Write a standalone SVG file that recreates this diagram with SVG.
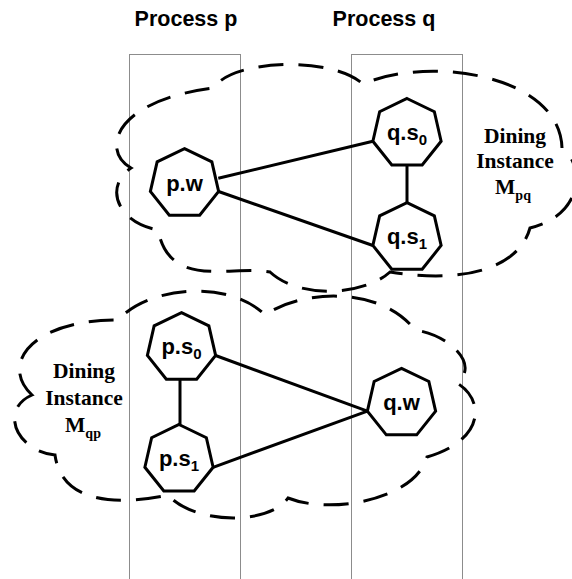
<svg xmlns="http://www.w3.org/2000/svg" xmlns:xlink="http://www.w3.org/1999/xlink" width="572" height="579" viewBox="0 0 572 579">
  <style>
    .col { fill: none; stroke: #8c8c8c; stroke-width: 1; }
    .title { font-family: "Liberation Sans", Arial, sans-serif; font-weight: bold; font-size: 21.5px; fill: #000; text-anchor: middle; }
    .cloud { fill: none; stroke: #000; stroke-width: 3; stroke-dasharray: 25 15; stroke-linejoin: miter; }
    .edge { stroke: #000; stroke-width: 3; fill: none; }
    .node { fill: #fff; stroke: #000; stroke-width: 3; stroke-linejoin: miter; }
    .nlabel { font-family: "Liberation Sans", Arial, sans-serif; font-weight: bold; font-size: 22px; fill: #000; text-anchor: middle; }
    .sub { font-size: 15px; }
    .inst { font-family: "Liberation Serif", "Times New Roman", serif; font-weight: bold; font-size: 21.5px; fill: #000; text-anchor: middle; }
    .isub { font-size: 14px; }
  </style>
  <defs>
    <!-- regular heptagon, radius 35, one vertex up -->
    <polygon id="hept" points="0,-35 27.36,-21.82 34.12,7.79 15.19,31.53 -15.19,31.53 -34.12,7.79 -27.36,-21.82"/>
  </defs>

  <!-- process columns -->
  <g id="columns">
    <rect class="col" x="129.5" y="54.5" width="111" height="560"/>
    <rect class="col" x="351.5" y="54.5" width="111" height="560"/>
    <text class="title" x="186" y="26">Process p</text>
    <text class="title" x="384" y="26">Process q</text>
  </g>

  <!-- dining instance boundaries -->
  <g id="instance-pq">
    <path class="cloud" d="M131,168 C100,150 115,100 214,88 C230,60 330,55 363,84 C430,55 560,75 562,148 C585,165 584,215 530,228 C520,265 470,285 390,272 C365,295 300,300 270,272 C230,265 170,290 158,230 C115,222 105,185 131,168 Z"/>
    <text class="inst" x="515" y="143">Dining</text>
    <text class="inst" x="515" y="168">Instance</text>
    <text class="inst" x="513" y="194">M<tspan class="isub" dy="6">pq</tspan></text>
  </g>
  <g id="instance-qp">
    <path class="cloud" d="M32,395 C0,365 30,320 118,320 C150,285 230,280 265,315 C300,290 380,285 415,330 C450,335 480,365 457,383 C485,400 485,440 427,457 C415,500 330,515 288,498 C270,525 195,525 168,495 C120,505 62,505 55,455 C18,452 -2,410 32,395 Z"/>
    <text class="inst" x="84" y="378">Dining</text>
    <text class="inst" x="84" y="405">Instance</text>
    <text class="inst" x="83" y="432">M<tspan class="isub" dy="6">qp</tspan></text>
  </g>

  <!-- connectors -->
  <g id="edges">
    <line class="edge" x1="218.3" y1="178.3" x2="372.9" y2="141.3"/>
    <line class="edge" x1="218.6" y1="191.5" x2="372.9" y2="245.5"/>
    <line class="edge" x1="407" y1="165" x2="407" y2="202.7"/>
    <line class="edge" x1="215.6" y1="355.5" x2="367.4" y2="411.1"/>
    <line class="edge" x1="213.1" y1="467.3" x2="367.4" y2="411.1"/>
    <line class="edge" x1="180" y1="379.2" x2="180" y2="424.5"/>
  </g>

  <!-- nodes -->
  <g id="p-w">
    <use xlink:href="#hept" class="node" transform="translate(184.5,183.7)"/>
    <text class="nlabel" x="184.5" y="190.5">p.w</text>
  </g>
  <g id="q-s0">
    <use xlink:href="#hept" class="node" transform="translate(407,133.5)"/>
    <text class="nlabel" x="407" y="140">q.s<tspan class="sub" dy="5">0</tspan></text>
  </g>
  <g id="q-s1">
    <use xlink:href="#hept" class="node" transform="translate(407,237.7)"/>
    <text class="nlabel" x="407" y="244">q.s<tspan class="sub" dy="5">1</tspan></text>
  </g>
  <g id="p-s0">
    <use xlink:href="#hept" class="node" transform="translate(181.5,347.7)"/>
    <text class="nlabel" x="181.5" y="354">p.s<tspan class="sub" dy="5">0</tspan></text>
  </g>
  <g id="p-s1">
    <use xlink:href="#hept" class="node" transform="translate(179,459.5)"/>
    <text class="nlabel" x="179" y="466">p.s<tspan class="sub" dy="5">1</tspan></text>
  </g>
  <g id="q-w">
    <use xlink:href="#hept" class="node" transform="translate(401.5,403.3)"/>
    <text class="nlabel" x="401.5" y="410">q.w</text>
  </g>
</svg>
